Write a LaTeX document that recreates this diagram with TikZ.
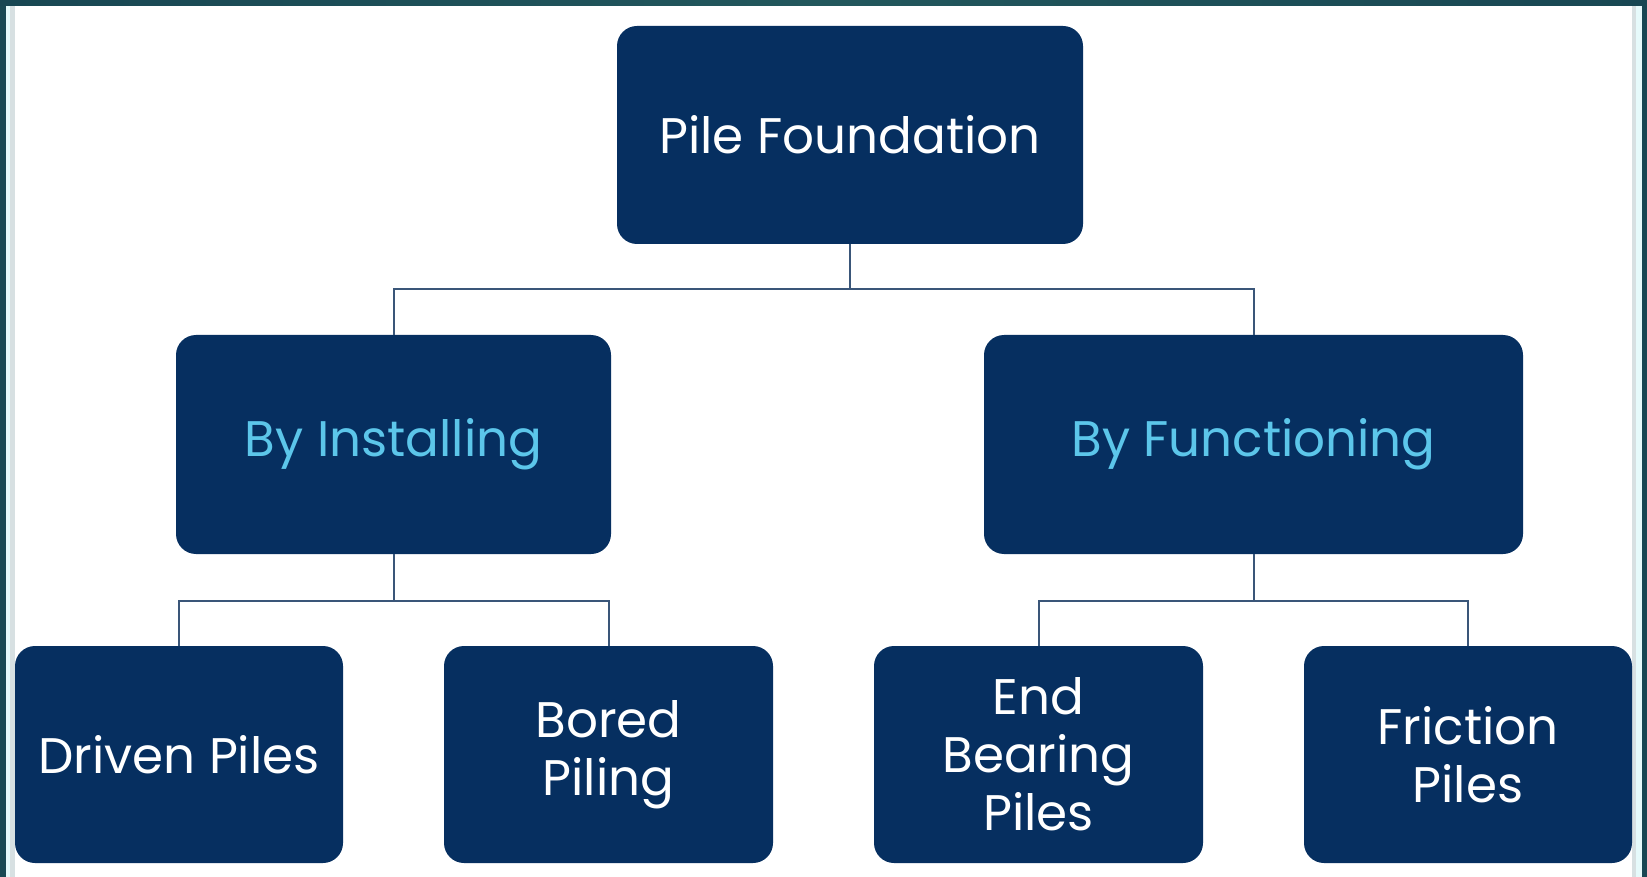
\documentclass[tikz,border=0pt]{standalone}
\usepackage{fontspec}
\setmainfont{Poppins}
\definecolor{boxblue}{HTML}{062F60}
\definecolor{lightbluetext}{HTML}{5CC6EA}
\definecolor{linecol}{HTML}{3A5679}
\definecolor{framedark}{HTML}{184753}
\definecolor{framemid}{HTML}{22575C}
\definecolor{paleedge}{HTML}{E6FAFB}
\definecolor{greyedge}{HTML}{D7E0E2}
\tikzset{
  box/.style={fill=boxblue, rounded corners=20pt, inner sep=0pt, align=center,
    text=white, font=\fontsize{50}{58}\selectfont},
  catbox/.style={box, text=lightbluetext},
  conn/.style={draw=linecol, line width=2pt}
}
\begin{document}
\begin{tikzpicture}[x=1pt,y=-1pt]
\useasboundingbox (0,0) rectangle (1647,877);
\fill[white] (0,0) rectangle (1647,877);
% frame
\shade[left color=framedark, right color=framedark, middle color=framemid] (0,0) rectangle (1647,6);
\fill[framedark!90!framemid] (0,6) rectangle (6,877);
\fill[paleedge] (6,6) rectangle (10,877);
\fill[greyedge] (10,6) rectangle (15,877);
\fill[greyedge] (1632,6) rectangle (1636,877);
\fill[paleedge] (1636,6) rectangle (1642,877);
\fill[framedark] (1642,0) rectangle (1647,877);
% nodes
\node[box, minimum width=466pt, minimum height=218pt] (top) at (850,135) {Pile Foundation};
\node[catbox, minimum width=435pt, minimum height=219pt] (inst) at (393.5,444.5) {By Installing};
\node[catbox, minimum width=539pt, minimum height=219pt] (func) at (1253.5,444.5) {By Functioning};
\node[box, minimum width=328pt, minimum height=217pt] (driven) at (179,754.5) {Driven Piles};
\node[box, minimum width=329pt, minimum height=217pt] (bored) at (608.5,754.5) {Bored\\Piling};
\node[box, minimum width=329pt, minimum height=217pt] (endb) at (1038.5,754.5) {End\\Bearing\\Piles};
\node[box, minimum width=328pt, minimum height=217pt] (fric) at (1468,754.5) {Friction\\Piles};
% connectors
\path (top.south) ++(0,45) coordinate (j1);
\path (inst.south) ++(0,47) coordinate (j2);
\path (func.south) ++(0,47) coordinate (j3);
\draw[conn] (top.south) -- (j1);
\draw[conn] (j1) -| (inst.north);
\draw[conn] (j1) -| (func.north);
\draw[conn] (inst.south) -- (j2);
\draw[conn] (j2) -| (driven.north);
\draw[conn] (j2) -| (bored.north);
\draw[conn] (func.south) -- (j3);
\draw[conn] (j3) -| (endb.north);
\draw[conn] (j3) -| (fric.north);
\end{tikzpicture}
\end{document}
